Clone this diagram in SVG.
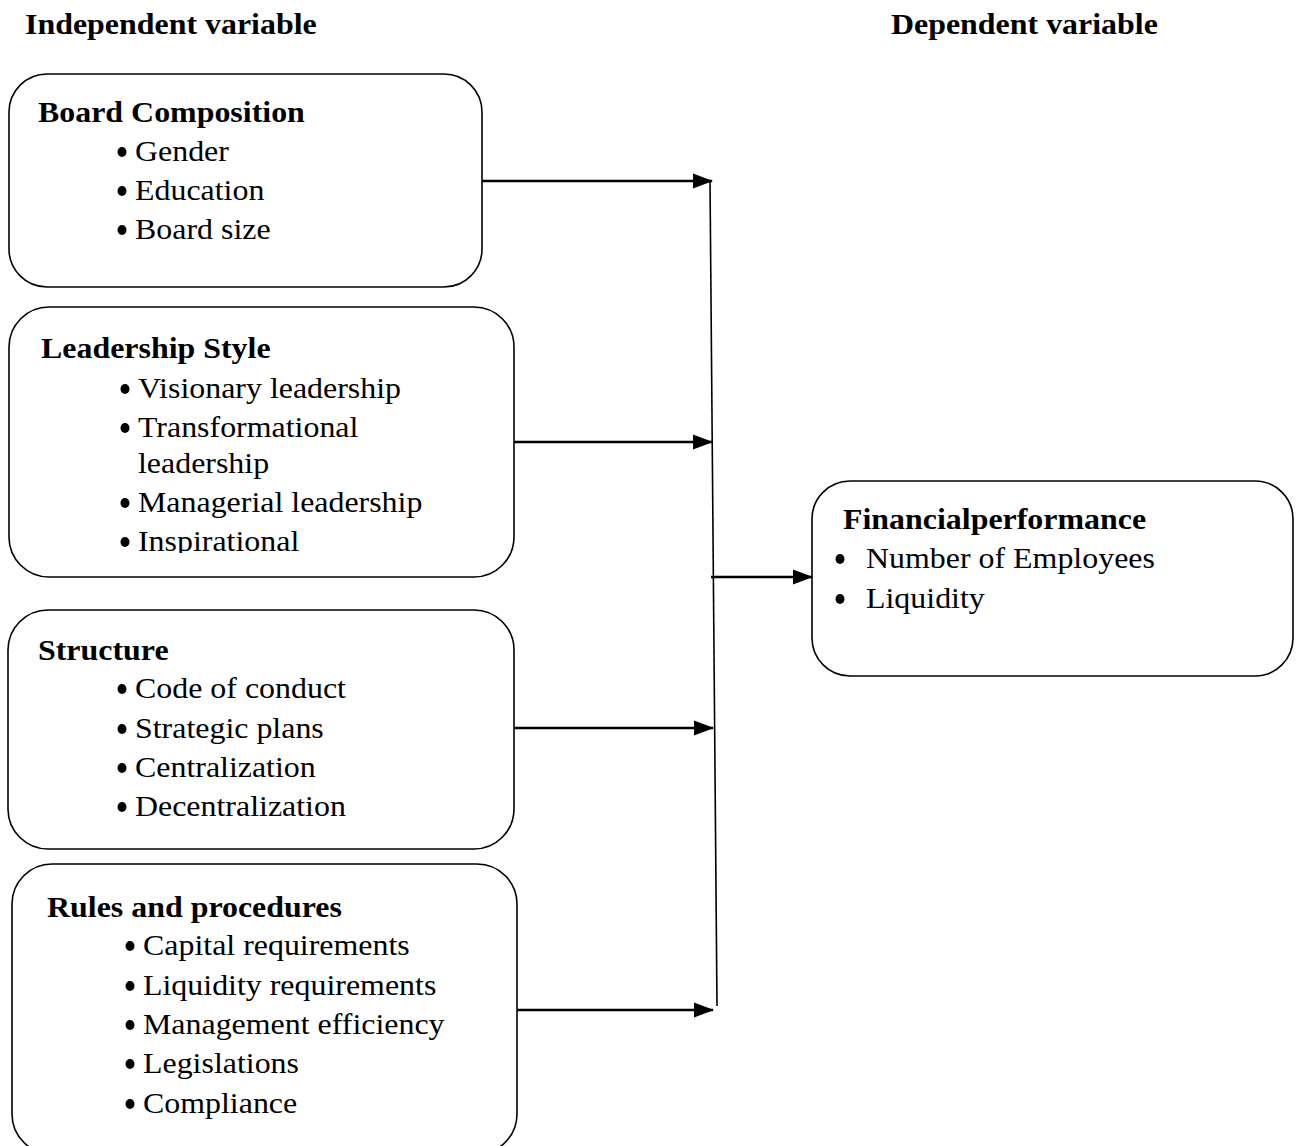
<svg xmlns="http://www.w3.org/2000/svg" width="1303" height="1146" viewBox="0 0 1303 1146">
<style>
.t{font-family:"Liberation Serif","Times New Roman",serif;font-size:28.5px;fill:#000;transform-box:fill-box;transform-origin:0 0;transform:scaleX(1.12)}
.b{font-weight:bold}
.box{fill:#fff;stroke:#000;stroke-width:1.6}
.dot{fill:#000}
.arr{stroke:#000;stroke-width:2.6;fill:none}
.ln{stroke:#000;stroke-width:1.6;fill:none}
</style>
<defs>
<marker id="ah" markerWidth="8" markerHeight="6" refX="7.5" refY="3" orient="auto" markerUnits="strokeWidth">
<path d="M0,0 L8,3 L0,6 Z" fill="#000"/>
</marker>
<clipPath id="clip2"><rect x="0" y="300" width="600" height="253"/></clipPath>
</defs>
<rect width="1303" height="1146" fill="#fff"/>
<text class="t b" x="25" y="34">Independent variable</text>
<text class="t b" x="891" y="34">Dependent variable</text>

<g id="board-composition">
<rect class="box" x="9" y="74" width="473" height="213" rx="38" ry="38"/>
<text class="t b" x="38" y="122">Board Composition</text>
<ellipse class="dot" cx="122" cy="152" rx="4.5" ry="5"/>
<text class="t" x="135" y="161">Gender</text>
<ellipse class="dot" cx="122" cy="191" rx="4.5" ry="5"/>
<text class="t" x="135" y="200">Education</text>
<ellipse class="dot" cx="122" cy="230" rx="4.5" ry="5"/>
<text class="t" x="135" y="239">Board size</text>
</g>

<g id="leadership-style">
<rect class="box" x="9" y="307" width="505" height="270" rx="40" ry="40"/>
<text class="t b" x="41" y="358">Leadership Style</text>
<ellipse class="dot" cx="125" cy="389" rx="4.5" ry="5"/>
<text class="t" x="138" y="398">Visionary leadership</text>
<ellipse class="dot" cx="125" cy="428" rx="4.5" ry="5"/>
<text class="t" x="138" y="437">Transformational</text>
<text class="t" x="138" y="473">leadership</text>
<ellipse class="dot" cx="125" cy="503" rx="4.5" ry="5"/>
<text class="t" x="138" y="512">Managerial leadership</text>
<ellipse class="dot" cx="125" cy="542" rx="4.5" ry="5"/>
<g clip-path="url(#clip2)"><text class="t" x="138" y="551">Inspirational</text></g>
</g>

<g id="structure">
<rect class="box" x="8" y="610" width="506" height="239" rx="40" ry="40"/>
<text class="t b" x="38" y="660">Structure</text>
<ellipse class="dot" cx="122" cy="689" rx="4.5" ry="5"/>
<text class="t" x="135" y="698">Code of conduct</text>
<ellipse class="dot" cx="122" cy="729" rx="4.5" ry="5"/>
<text class="t" x="135" y="738">Strategic plans</text>
<ellipse class="dot" cx="122" cy="768" rx="4.5" ry="5"/>
<text class="t" x="135" y="777">Centralization</text>
<ellipse class="dot" cx="122" cy="807" rx="4.5" ry="5"/>
<text class="t" x="135" y="816">Decentralization</text>
</g>

<g id="rules-and-procedures">
<rect class="box" x="12" y="864" width="505" height="290" rx="40" ry="40"/>
<text class="t b" x="47" y="917">Rules and procedures</text>
<ellipse class="dot" cx="130" cy="946" rx="4.5" ry="5"/>
<text class="t" x="143" y="955">Capital requirements</text>
<ellipse class="dot" cx="130" cy="986" rx="4.5" ry="5"/>
<text class="t" x="143" y="995">Liquidity requirements</text>
<ellipse class="dot" cx="130" cy="1025" rx="4.5" ry="5"/>
<text class="t" x="143" y="1034">Management efficiency</text>
<ellipse class="dot" cx="130" cy="1064" rx="4.5" ry="5"/>
<text class="t" x="143" y="1073">Legislations</text>
<ellipse class="dot" cx="130" cy="1104" rx="4.5" ry="5"/>
<text class="t" x="143" y="1113">Compliance</text>
</g>

<g id="financial-performance">
<rect class="box" x="812" y="481" width="481" height="195" rx="38" ry="38"/>
<text class="t b" x="843" y="529">Financialperformance</text>
<ellipse class="dot" cx="840" cy="559" rx="4.5" ry="5"/>
<text class="t" x="866" y="568">Number of Employees</text>
<ellipse class="dot" cx="840" cy="599" rx="4.5" ry="5"/>
<text class="t" x="866" y="608">Liquidity</text>
</g>

<g id="connectors">
<line class="ln" x1="710" y1="180" x2="717" y2="1006"/>
<line class="arr" x1="482" y1="181" x2="712" y2="181" marker-end="url(#ah)"/>
<line class="arr" x1="514" y1="442" x2="712" y2="442" marker-end="url(#ah)"/>
<line class="arr" x1="514" y1="728" x2="713" y2="728" marker-end="url(#ah)"/>
<line class="arr" x1="517" y1="1010" x2="713" y2="1010" marker-end="url(#ah)"/>
<line class="arr" x1="711" y1="577" x2="812" y2="577" marker-end="url(#ah)"/>
</g>
</svg>
